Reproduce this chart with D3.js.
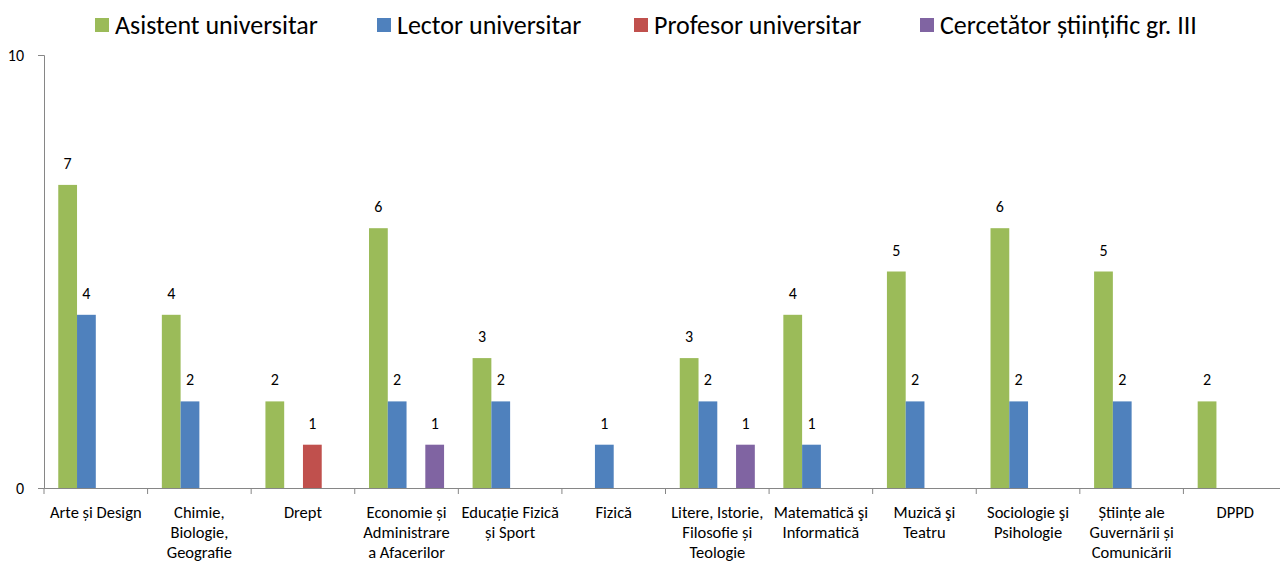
<!DOCTYPE html>
<html>
<head>
<meta charset="utf-8">
<script src="https://cdn.jsdelivr.net/npm/d3@7"></script>
<style>
  body { margin: 0; background: #fff; }
  svg { display: block; font-family: Carlito, Lato, "Open Sans", sans-serif; }
</style>
</head>
<body>
<svg id="chart" width="1280" height="561"></svg>
<script>
// categories, with their wrapped label lines
var categories = [
  'Arte și Design', 'Chimie, Biologie, Geografie', 'Drept',
  'Economie și Administrare a Afacerilor', 'Educație Fizică și Sport', 'Fizică',
  'Litere, Istorie, Filosofie și Teologie', 'Matematică şi Informatică', 'Muzică şi Teatru',
  'Sociologie şi Psihologie', 'Științe ale Guvernării și Comunicării', 'DPPD'
];
var categoryLines = [
  ['Arte și Design'], ['Chimie,', 'Biologie,', 'Geografie'], ['Drept'],
  ['Economie și', 'Administrare', 'a Afacerilor'], ['Educație Fizică', 'și Sport'], ['Fizică'],
  ['Litere, Istorie,', 'Filosofie și', 'Teologie'], ['Matematică şi', 'Informatică'], ['Muzică şi', 'Teatru'],
  ['Sociologie şi', 'Psihologie'], ['Științe ale', 'Guvernării și', 'Comunicării'], ['DPPD']
];

var seriesNames = ['Asistent universitar', 'Lector universitar', 'Profesor universitar', 'Cercetător științific gr. III'];
var seriesColors = ['#9BBB59', '#4F81BD', '#C0504D', '#8064A2'];

var asistent  = [7, 4, 2, 6, 3, 0, 3, 4, 5, 6, 5, 2];
var lector    = [4, 2, 0, 2, 2, 1, 2, 1, 2, 2, 2, 0];
var profesor  = [0, 0, 1, 0, 0, 0, 0, 0, 0, 0, 0, 0];
var cercetator = [0, 0, 0, 1, 0, 0, 1, 0, 0, 0, 0, 0];
var seriesValues = [asistent, lector, profesor, cercetator];

var yTicks = [0, 10];

var svg = d3.select('#chart');
var plotLeft = 44, plotRight = 1287, plotTop = 55, plotBottom = 488;

var xScale = d3.scaleBand().domain(categories).range([plotLeft, plotRight]);
var inner = d3.scaleBand().domain(d3.range(seriesNames.length))
  .range([0, xScale.bandwidth()]).paddingOuter(0.76);
var yScale = d3.scaleLinear().domain([0, 10]).range([plotBottom, plotTop]);

// bars
seriesValues.forEach(function (vals, s) {
  var g = svg.append('g');
  var data = vals.map(function (v, i) { return { cat: categories[i], v: v }; })
    .filter(function (d) { return d.v > 0; });
  g.selectAll('rect').data(data).enter().append('rect')
    .attr('x', d => xScale(d.cat) + inner(s))
    .attr('y', d => yScale(d.v))
    .attr('width', inner.bandwidth())
    .attr('height', d => plotBottom - yScale(d.v))
    .attr('fill', seriesColors[s]);
  g.selectAll('text').data(data).enter().append('text')
    .attr('x', d => xScale(d.cat) + inner(s) + inner.bandwidth() / 2)
    .attr('y', d => yScale(d.v) - 16)
    .attr('text-anchor', 'middle')
    .attr('font-size', 16)
    .attr('fill', '#000')
    .text(d => d.v);
});

// y axis
var yAxis = svg.append('g')
  .attr('transform', 'translate(' + plotLeft + ',0)')
  .call(d3.axisLeft(yScale).tickValues(yTicks).tickSize(6).tickPadding(14));
yAxis.selectAll('text').attr('font-size', 16).attr('font-family', 'Carlito, Lato, sans-serif').attr('fill', '#000');
yAxis.selectAll('line').attr('stroke', '#868686');

// x axis
var xAxis = svg.append('g')
  .attr('transform', 'translate(0,' + plotBottom + ')')
  .call(d3.axisBottom(xScale).tickSize(0).tickFormat(''));
xAxis.selectAll('.tick').remove();
xAxis.selectAll('.bt').data(categories.concat(['end'])).enter().append('line')
  .attr('x1', (d, i) => i < categories.length ? xScale(d) : plotRight)
  .attr('x2', (d, i) => i < categories.length ? xScale(d) : plotRight)
  .attr('y1', 0).attr('y2', 6)
  .attr('stroke', '#868686');

svg.selectAll('.domain').attr('stroke', '#868686');

// category labels
var lab = svg.append('g');
categories.forEach(function (c, i) {
  var t = lab.append('text')
    .attr('x', xScale(c) + xScale.bandwidth() / 2)
    .attr('y', plotBottom + 30)
    .attr('text-anchor', 'middle')
    .attr('font-size', 16.5)
    .attr('fill', '#000');
  categoryLines[i].forEach(function (line, j) {
    t.append('tspan').attr('x', xScale(c) + xScale.bandwidth() / 2)
      .attr('dy', j === 0 ? 0 : 20).text(line);
  });
});

// legend
var legendX = [95, 377, 634, 920];
var legend = svg.append('g');
seriesNames.forEach(function (n, i) {
  legend.append('rect').attr('x', legendX[i]).attr('y', 18)
    .attr('width', 14).attr('height', 14).attr('fill', seriesColors[i]);
  legend.append('text').attr('x', legendX[i] + 20).attr('y', 34)
    .attr('font-size', 26).attr('fill', '#000').text(n);
});
</script>
</body>
</html>
